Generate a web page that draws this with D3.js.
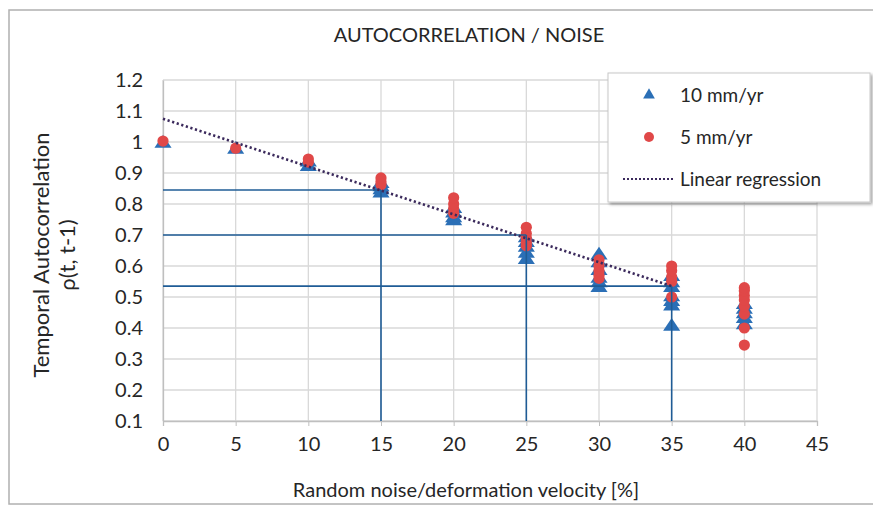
<!DOCTYPE html>
<html><head><meta charset="utf-8">
<script src="https://cdn.jsdelivr.net/npm/d3@7"></script>
<style>body{margin:0;background:#fff}svg{display:block}text{font-family:Lato,"Open Sans",sans-serif;fill:#262626}</style>
</head><body><svg id="c" width="873" height="509"></svg>
<script>
const xCategories = [0, 5, 10, 15, 20, 25, 30, 35, 40];
const tri10 = [
  [0.995], [0.976], [0.92, 0.935],
  [0.835, 0.845, 0.855, 0.865],
  [0.745, 0.755, 0.77, 0.785],
  [0.62, 0.64, 0.66, 0.675, 0.69],
  [0.53, 0.545, 0.56, 0.585, 0.61, 0.635],
  [0.405, 0.47, 0.485, 0.50, 0.53, 0.545, 0.565],
  [0.41, 0.43, 0.445, 0.46, 0.475]
];
const circ5 = [
  [1.003], [0.98], [0.935, 0.945],
  [0.862, 0.872, 0.884],
  [0.77, 0.785, 0.80, 0.82],
  [0.665, 0.675, 0.69, 0.705, 0.725],
  [0.56, 0.57, 0.585, 0.60, 0.62],
  [0.50, 0.55, 0.565, 0.585, 0.60],
  [0.345, 0.40, 0.445, 0.47, 0.49, 0.505, 0.52, 0.53]
];
const regX = [0, 35];
const regY = [1.075, 0.535];
const refX = [15, 25, 35];
const refY = [0.845, 0.70, 0.535];
const xTicks = [0, 5, 10, 15, 20, 25, 30, 35, 40, 45];
const yTicks = [0.1, 0.2, 0.3, 0.4, 0.5, 0.6, 0.7, 0.8, 0.9, 1, 1.1, 1.2];
const legendLabels = ["10 mm/yr", "5 mm/yr", "Linear regression"];

const svg = d3.select("#c");
const blue = "#2b6fb6", red = "#e04848", refCol = "#1f5c96", regCol = "#3b2a5c";
const x = d3.scaleLinear().domain([0, 45]).range([163, 817]);
const y = d3.scaleLinear().domain([0.1, 1.2]).range([421, 80]);

const defs = svg.append("defs");
const f = defs.append("filter").attr("id","sh").attr("x","-5%").attr("y","-5%").attr("width","115%").attr("height","120%");
f.append("feDropShadow").attr("dx",2).attr("dy",2).attr("stdDeviation",1.5).attr("flood-color","#000").attr("flood-opacity",0.35);
svg.append("rect").attr("x",9).attr("y",10).attr("width",900).attr("height",494)
  .attr("fill","#fff").attr("stroke","#b0b0b0").attr("stroke-width",1.5);

svg.append("text").attr("x",469).attr("y",42).attr("text-anchor","middle")
  .style("font-size","20px").text("AUTOCORRELATION / NOISE");

svg.append("g").selectAll("line").data(yTicks).join("line")
  .attr("x1",x(0)).attr("x2",x(45)).attr("y1",d=>y(d)).attr("y2",d=>y(d))
  .attr("stroke","#d9d9d9").attr("stroke-width",1.3);
svg.append("g").selectAll("line").data(xTicks).join("line")
  .attr("x1",d=>x(d)).attr("x2",d=>x(d)).attr("y1",y(1.2)).attr("y2",y(0.1))
  .attr("stroke","#d9d9d9").attr("stroke-width",1.3);

const xa = svg.append("g").attr("transform",`translate(0,${y(0.1)})`)
  .call(d3.axisBottom(x).tickValues(xTicks).tickSize(5).tickPadding(11).tickFormat(d3.format("d")));
const ya = svg.append("g").attr("transform",`translate(${x(0)},0)`)
  .call(d3.axisLeft(y).tickValues(yTicks).tickSize(0).tickPadding(20).tickFormat(d=>d===1?"1":d3.format(".1f")(d)));
[xa, ya].forEach(a=>{
  a.selectAll("path").attr("stroke","#bfbfbf").attr("stroke-width",1.3);
  a.selectAll("line").attr("stroke","#bfbfbf");
  a.selectAll("text").style("font-size","20px").style("font-family","Lato,sans-serif").attr("fill","#262626");
});

const triPts = [], cirPts = [];
xCategories.forEach((c,i)=>{ tri10[i].forEach(v=>triPts.push([c,v])); circ5[i].forEach(v=>cirPts.push([c,v])); });
const triSym = d3.symbol().type(d3.symbolTriangle).size(115);
svg.append("g").selectAll("path").data(triPts).join("path")
  .attr("d", triSym).attr("transform", d=>`translate(${x(d[0])},${y(d[1])}) scale(1.05,0.9)`)
  .attr("fill", blue);
svg.append("g").selectAll("circle").data(cirPts).join("circle")
  .attr("cx", d=>x(d[0])).attr("cy", d=>y(d[1])).attr("r",5.6).attr("fill", red);

const rg = svg.append("g").attr("stroke",refCol).attr("stroke-width",1.6);
refX.forEach((rx,i)=>{
  rg.append("line").attr("x1",x(0)).attr("x2",x(rx)).attr("y1",y(refY[i])).attr("y2",y(refY[i]));
  rg.append("line").attr("x1",x(rx)).attr("x2",x(rx)).attr("y1",y(refY[i])).attr("y2",y(0.1));
});

svg.append("line").attr("x1",x(regX[0])).attr("y1",y(regY[0])).attr("x2",x(regX[1])).attr("y2",y(regY[1]))
  .attr("stroke",regCol).attr("stroke-width",2.6).attr("stroke-dasharray","2.2,2.6");

svg.append("text").attr("x",466).attr("y",497).attr("text-anchor","middle")
  .style("font-size","20px").text("Random noise/deformation velocity [%]");
svg.append("text").attr("transform","translate(49,255) rotate(-90)").attr("text-anchor","middle")
  .style("font-size","22px").text("Temporal Autocorrelation");
svg.append("text").attr("transform","translate(75,255) rotate(-90)").attr("text-anchor","middle")
  .style("font-size","22px").text("ρ(t, t-1)");

const lg = svg.append("g");
lg.append("rect").attr("x",608).attr("y",73).attr("width",262).attr("height",129)
  .attr("fill","#fff").attr("stroke","#c8c8c8").attr("filter","url(#sh)");
lg.append("path").attr("d", d3.symbol().type(d3.symbolTriangle).size(60))
  .attr("transform","translate(649,95)").attr("fill",blue);
lg.append("circle").attr("cx",649).attr("cy",137).attr("r",5).attr("fill",red);
lg.append("line").attr("x1",623).attr("x2",673).attr("y1",179).attr("y2",179)
  .attr("stroke",regCol).attr("stroke-width",2.2).attr("stroke-dasharray","2,2");
legendLabels.forEach((t,i)=>{
  lg.append("text").attr("x",680).attr("y",102+i*42).style("font-size","19px").text(t);
});
</script></body></html>
